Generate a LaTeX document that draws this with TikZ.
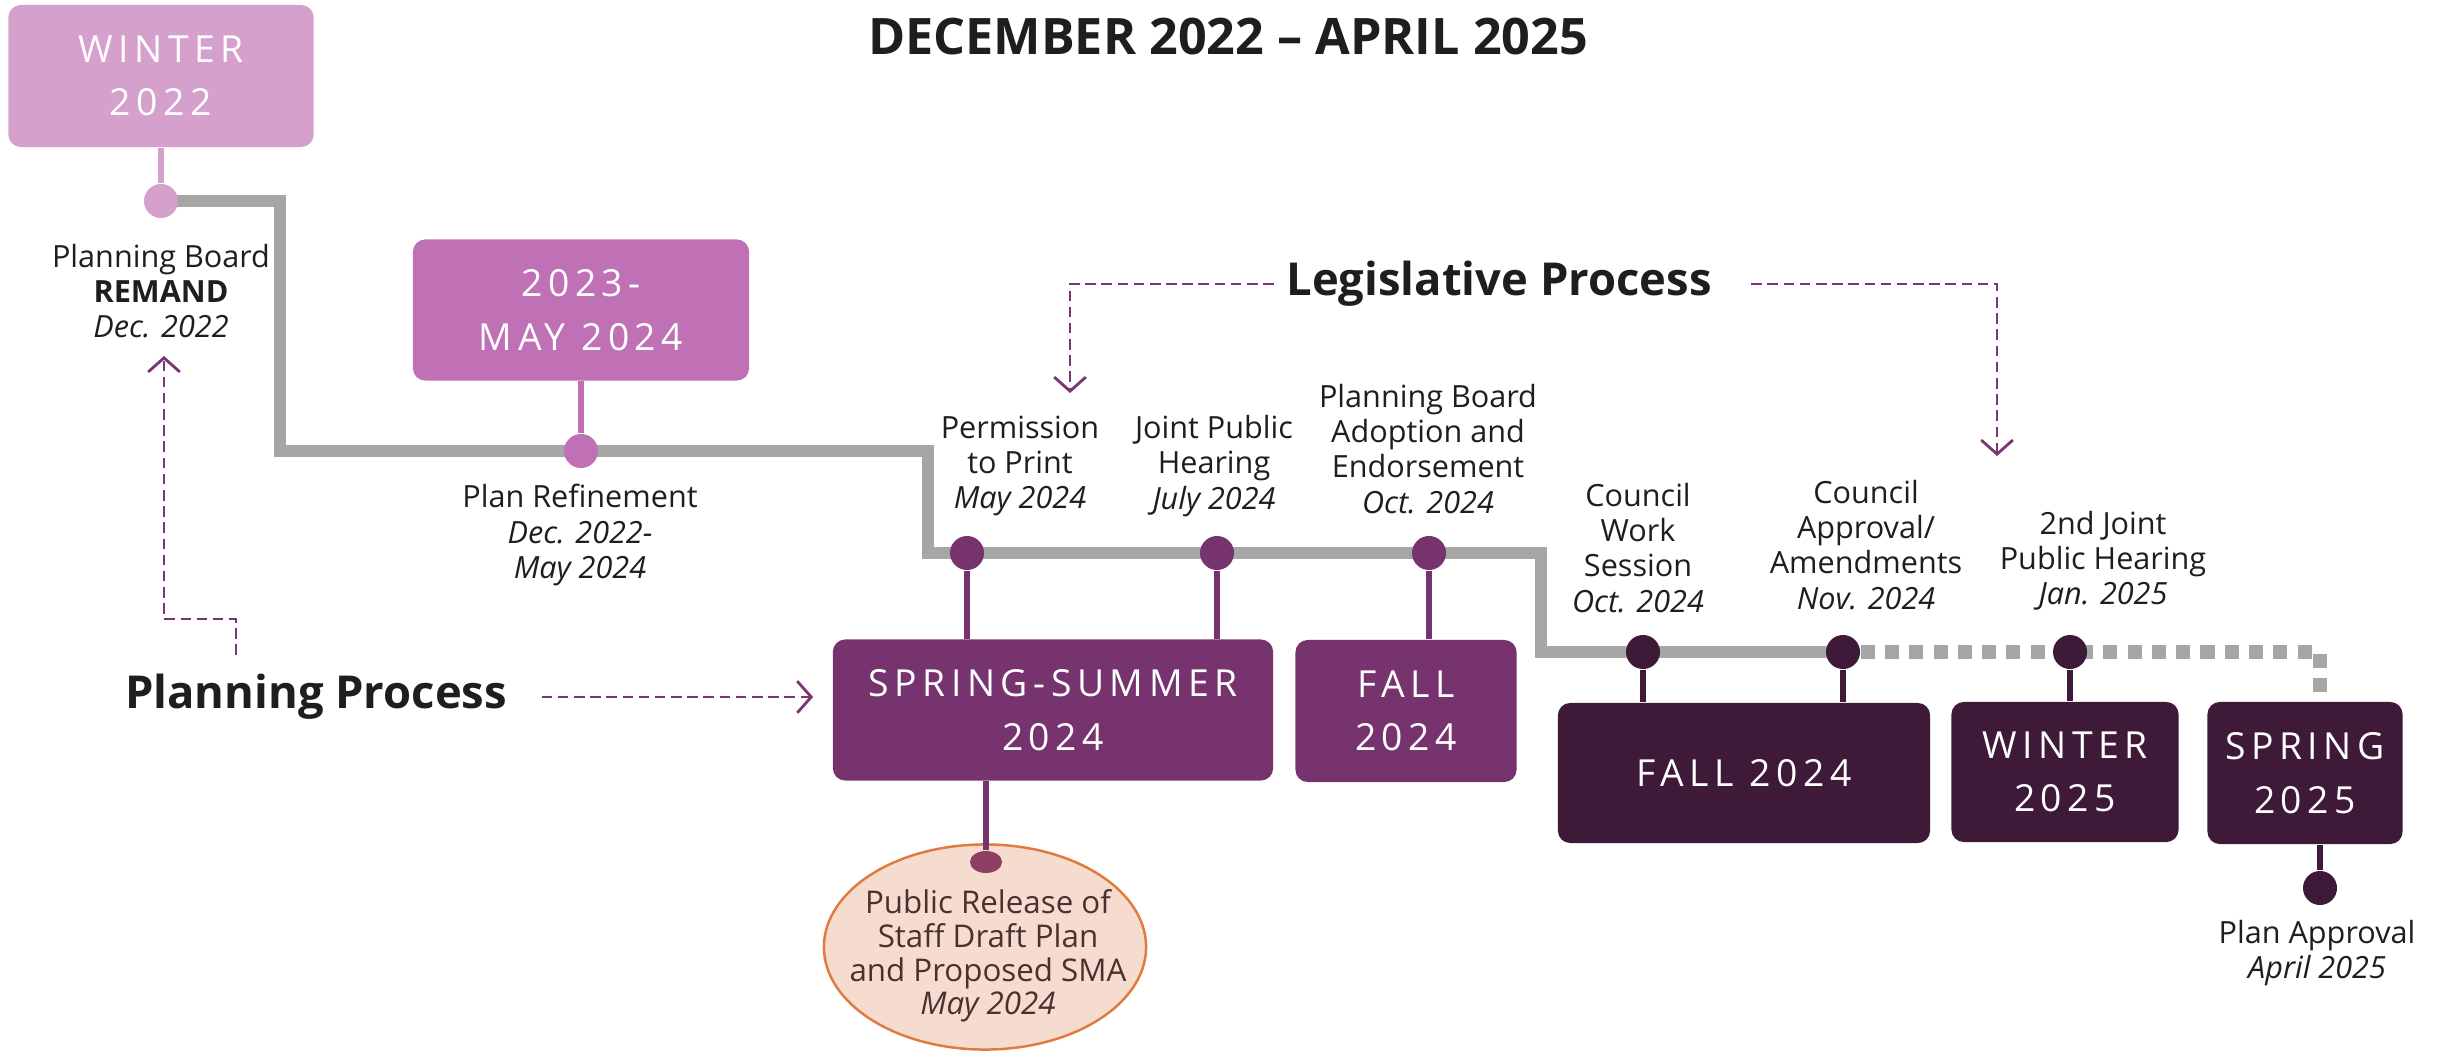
\documentclass[tikz,border=0pt]{standalone}
\usepackage{fontspec}
\setmainfont{Open Sans}
\usetikzlibrary{arrows.meta,shapes.geometric}
\pgfdeclarelayer{bg}
\pgfsetlayers{bg,main}
\definecolor{pinkA}{HTML}{D6A0CD}
\definecolor{orchidA}{HTML}{C071B5}
\definecolor{purpA}{HTML}{77336E}
\definecolor{darkA}{HTML}{3E1938}
\definecolor{grayA}{HTML}{A6A6A6}
\definecolor{dashA}{HTML}{7B3573}
\definecolor{peachA}{HTML}{F6DCCF}
\definecolor{orangeA}{HTML}{E07B3E}
\definecolor{brownA}{HTML}{4B3030}
\definecolor{reldotA}{HTML}{8F3F62}
\definecolor{txtA}{HTML}{1E1E1E}
\newcommand{\mylblfont}{\fontsize{8.7pt}{10pt}\selectfont}
\newcommand{\myboxfont}{\fontsize{10.6pt}{15.2pt}\selectfont\addfontfeature{LetterSpace=15}}
\newcommand{\myheadfont}{\fontsize{12.9pt}{15pt}\selectfont\bfseries}
\begin{document}
\begin{tikzpicture}[x=0.01cm,y=-0.01cm,
  period/.style={rounded corners=3.5pt, text=white, align=center, font=\myboxfont, inner sep=0pt},
  dot/.style={circle, inner sep=0pt, minimum size=0.34cm},
  stem/.style={line width=1.5pt},
  tline/.style={grayA, line width=3.6pt},
  tdots/.style={grayA, line width=3.8pt, dash pattern=on 4pt off 2.9pt},
  lab/.style={align=center, font=\mylblfont, text=txtA, inner sep=0pt},
  dasharrow/.style={dashA, line width=0.8pt, dash pattern=on 3pt off 1.6pt, -{Straight Barb[length=4pt,width=9pt]}},
  head/.style={font=\myheadfont, text=txtA, inner sep=0pt}
  ]
\path[use as bounding box] (0,0) rectangle (2446,1052);

\node[font=\fontsize{14.3pt}{17pt}\selectfont\bfseries, text=txtA, inner sep=0pt] (title) at (1228,37) {DECEMBER 2022 -- APRIL 2025};

% period boxes
\node[period, fill=pinkA, minimum width=3.05cm, minimum height=1.42cm] (w22) at (161,76) {WINTER\\2022};
\node[period, fill=orchidA, minimum width=3.36cm, minimum height=1.41cm] (m24) at (581,310) {2023-\\MAY 2024};
\node[period, fill=purpA, minimum width=4.40cm, minimum height=1.41cm] (ss) at (1053,710) {SPRING-SUMMER\\2024};
\node[period, fill=purpA, minimum width=2.21cm, minimum height=1.42cm] (f24a) at (1406,711) {FALL\\2024};
\node[period, fill=darkA, minimum width=3.72cm, minimum height=1.40cm] (f24b) at (1744,773) {FALL 2024};
\node[period, fill=darkA, minimum width=2.27cm, minimum height=1.40cm] (w25) at (2065,772) {WINTER\\2025};
\node[period, fill=darkA, minimum width=1.95cm, minimum height=1.42cm] (s25) at (2305,773) {SPRING\\2025};

% dots
\node[dot, fill=pinkA] (d0) at (161,201) {};
\node[dot, fill=orchidA] (d1) at (581,451) {};
\node[dot, fill=purpA] (d2) at (967,553) {};
\node[dot, fill=purpA] (d3) at (1217,553) {};
\node[dot, fill=purpA] (d4) at (1429,553) {};
\node[dot, fill=darkA] (d5) at (1643,652) {};
\node[dot, fill=darkA] (d6) at (1843,652) {};
\node[dot, fill=darkA] (d7) at (2070,652) {};
\node[dot, fill=darkA] (d8) at (2320,888) {};

% timeline
\coordinate (g1) at (280,201);
\coordinate (g2) at (280,451);
\coordinate (g3) at (928,451);
\coordinate (g4) at (928,553);
\coordinate (g5) at (1541,553);
\coordinate (g6) at (1541,652);
\coordinate (g7) at (2320,652);
\begin{pgfonlayer}{bg}
\draw[tline] (d0.center) -- (g1) -- (g2) -- (g3) -- (g4) -- (g5) -- (g6) -- (d6.center);
\draw[tdots] (d6.east) -- (g7) -- (g7 |- s25.north);
\end{pgfonlayer}

% stems
\draw[stem, pinkA] (w22) -- (d0);
\draw[stem, orchidA] (m24) -- (d1);
\draw[stem, purpA] (d2) -- (d2 |- ss.north);
\draw[stem, purpA] (d3) -- (d3 |- ss.north);
\draw[stem, purpA] (d4) -- (d4 |- f24a.north);
\draw[stem, darkA] (d5) -- (d5 |- f24b.north);
\draw[stem, darkA] (d6) -- (d6 |- f24b.north);
\draw[stem, darkA] (d7) -- (d7 |- w25.north);
\draw[stem, darkA] (d8 |- s25.south) -- (d8);

% public release ellipse
\node[ellipse, draw=orangeA, fill=peachA, line width=0.7pt, minimum width=3.22cm, minimum height=2.05cm, inner sep=0pt] (rel) at (985,947) {};
\node[align=center, inner sep=0pt, font=\fontsize{8.9pt}{9.6pt}\selectfont, text=brownA] (relt) at (988,956)
      {Public Release of\\Staff Draft Plan\\and Proposed SMA\\\textit{May 2024}};
\node[ellipse, fill=reldotA, inner sep=0pt, minimum width=0.32cm, minimum height=0.22cm] (reldot) at (986,862) {};
\draw[stem, purpA] (ss.south -| reldot) -- (reldot.north);

% labels
\node[lab] (pbl) at (161,291) {Planning Board\\\textbf{REMAND}\\\textit{Dec. 2022}};
\node[lab] (prl) at (580,535) {Plan Refinement\\\textit{Dec. 2022-}\\\textit{May 2024}};
\node[lab] (ptp) at (1020,466) {Permission\\to Print\\\textit{May 2024}};
\node[lab] (jph) at (1214,466) {Joint Public\\Hearing\\\textit{July 2024}};
\node[lab] (pba) at (1428,449) {Planning Board\\Adoption and\\Endorsement\\\textit{Oct. 2024}};
\node[lab] (cws) at (1638,548) {Council\\Work\\Session\\\textit{Oct. 2024}};
\node[lab] (caa) at (1866,545) {Council\\Approval/\\Amendments\\\textit{Nov. 2024}};
\node[lab] (jp2) at (2103,561) {2nd Joint\\Public Hearing\\\textit{Jan. 2025}};
\node[lab] (pap) at (2317,953) {Plan Approval\\\textit{April 2025}};

% process headings
\node[head] (leg) at (1499,284) {Legislative Process};
\node[head] (pp) at (316,697) {Planning Process};

% dashed arrows
\coordinate (la) at (1070,393);
\coordinate (ra) at (1997,456);
\draw[dasharrow] ([xshift=-0.12cm]leg.west) -| (la);
\draw[dasharrow] ([xshift=0.39cm]leg.east) -| (ra);
\draw[dasharrow] ([xshift=0.34cm]pp.east) -- ([xshift=-0.19cm]pp.east -| ss.west);
\coordinate (pd0) at (236,655);
\coordinate (pd1) at (164,619);
\coordinate (pd2) at (164,356);
\draw[dasharrow] (pd0) |- (pd1) -- (pd2);
\end{tikzpicture}
\end{document}
